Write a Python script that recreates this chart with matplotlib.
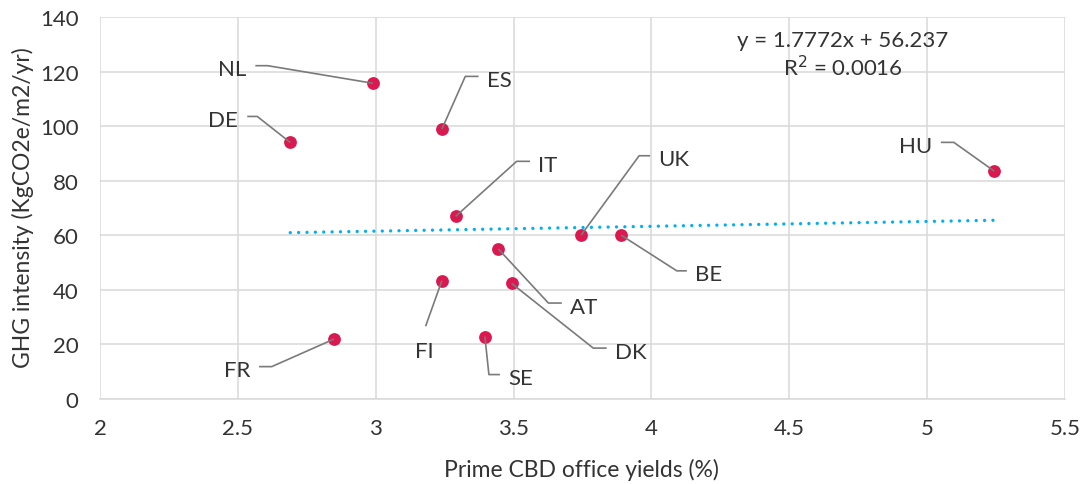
import numpy as np
import matplotlib.pyplot as plt
import matplotlib.transforms as mtransforms

# données
countries = ['NL', 'ES', 'DE', 'IT', 'UK', 'BE', 'HU', 'AT', 'FI', 'DK', 'SE', 'FR']
yields = [2.99, 3.24, 2.69, 3.29, 3.745, 3.89, 5.243, 3.445, 3.24, 3.493, 3.396, 2.849]
ghg = [115.8, 99.0, 94.1, 67.0, 60.1, 60.1, 83.6, 55.0, 43.4, 42.4, 22.9, 22.0]

# droite de tendance (équation affichée)
slope = 1.7772
intercept = 56.237
r2 = 0.0016

x_ticks = [2, 2.5, 3, 3.5, 4, 4.5, 5, 5.5]
y_ticks = [0, 20, 40, 60, 80, 100, 120, 140]

# placement des étiquettes (pixels depuis le point, y vers le bas) :
# coude (dx, dy), longueur du trait horizontal
label_pos = {
    'NL': (-105.3, -17.6, -12.3),
    'DE': (-33, -26, -10),
    'ES': (23.4, -52.7, 13.3),
    'IT': (61, -55, 13.3),
    'UK': (58, -79.4, 11),
    'HU': (-40.3, -28.7, -13),
    'BE': (55.7, 35.7, 10),
    'AT': (50, 54, 13.4),
    'DK': (81.6, 64.7, 13.4),
    'SE': (4, 38, 11),
    'FR': (-62.3, 27.6, -12.7),
    'FI': (-16.3, 45.6, 0),
}

txt_col = '#333333'
grid_col = '#d9d9d9'
pt_col = '#dc1850'
line_col = '#7a7a7a'
trend_col = '#00b0f0'
fs = 16
fs_title = 16.5

plt.rcParams['font.family'] = ['Lato', 'DejaVu Sans']

fig = plt.figure(figsize=(10.86, 4.85), dpi=100)
ax = fig.add_axes([100/1086, 1 - 400/485, 965/1086, 381.7/485])

ax.set_xlim(2, 5.5)
ax.set_ylim(0, 140)
ax.set_xticks(x_ticks)
ax.set_xticklabels([str(t) for t in x_ticks])
ax.set_yticks(y_ticks)
ax.grid(True, color=grid_col, lw=1.1)
ax.set_axisbelow(True)
for s in ['top', 'right', 'left']:
    ax.spines[s].set_visible(False)
ax.spines['bottom'].set_color(grid_col)
ax.spines['bottom'].set_linewidth(1.1)
ax.tick_params(length=0, labelsize=fs, colors=txt_col)
ax.tick_params(axis='y', pad=15.5)
ax.tick_params(axis='x', pad=13.5)

# titres des axes
fig.text(581/1086, 1 - 476.7/485, 'Prime CBD office yields (%)', ha='center', va='baseline',
         fontsize=fs_title, color=txt_col)
fig.text(23/1086, 1 - 208/485, 'GHG intensity (KgCO2e/m2/yr)', ha='center', va='center',
         rotation=90, fontsize=fs_title, color=txt_col)

# tendance
xt = np.array([min(yields), max(yields)])
ax.plot(xt, slope * xt + intercept, color=trend_col, lw=2.4,
        linestyle=(0, (0.01, 2.5)), dash_capstyle='round', zorder=2)

ax.scatter(yields, ghg, s=85, color=pt_col, zorder=3, linewidths=0)

# étiquettes avec traits de rappel
for name, x, y in zip(countries, yields, ghg):
    ex, ey, h = label_pos[name]
    tr = mtransforms.IdentityTransform() + mtransforms.ScaledTranslation(x, y, ax.transData)
    ax.plot([0, ex, ex + h], [0, -ey, -ey], color=line_col, lw=1.2,
            transform=tr, clip_on=False, zorder=4, solid_capstyle='butt')
    if name == 'FI':
        ax.text(ex - 1, -ey - 21 - 9.5, name, transform=tr, ha='center', va='baseline',
                fontsize=fs, color=txt_col)
    elif h < 0:
        ax.text(ex + h - 9, -ey - 9.5, name, transform=tr, ha='right', va='baseline',
                fontsize=fs, color=txt_col)
    else:
        ax.text(ex + h + 8.5, -ey - 9.5, name, transform=tr, ha='left', va='baseline',
                fontsize=fs, color=txt_col)

ax.text(843 / 1086, 1 - 46.7 / 485, 'y = %.4fx + %.3f' % (slope, intercept),
        transform=fig.transFigure, ha='center', va='baseline', fontsize=fs, color=txt_col)
ax.text(843 / 1086, 1 - 76 / 485, 'R$^2$ = %.4f' % r2,
        transform=fig.transFigure, ha='center', va='baseline', fontsize=fs, color=txt_col)

fig.savefig('out.png', dpi=100)
